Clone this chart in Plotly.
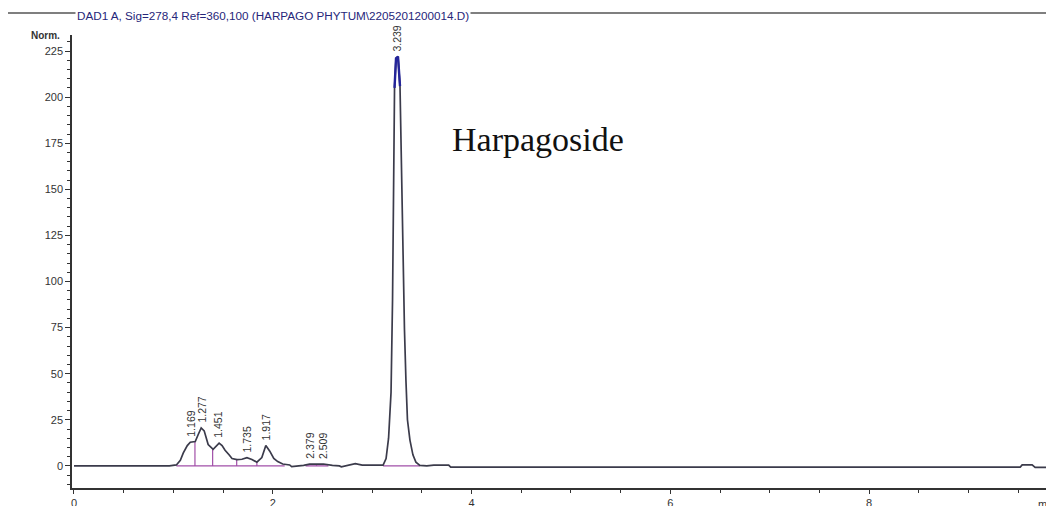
import numpy as np
import plotly.graph_objects as go

# Chromatogram trace (retention time in min, signal in Norm.)
time_min = [0.00, 0.96, 1.03, 1.07, 1.10, 1.14, 1.17, 1.22, 1.25, 1.28, 1.31, 1.35,
            1.40, 1.43, 1.46, 1.49, 1.52, 1.56, 1.59, 1.64, 1.69, 1.74, 1.79, 1.84,
            1.89, 1.93, 1.97, 2.01, 2.05, 2.10, 2.17, 2.19, 2.21, 2.25, 2.31, 2.37,
            2.44, 2.51, 2.60, 2.67, 2.69, 2.76, 2.83, 2.90, 3.00, 3.08, 3.11, 3.14,
            3.165, 3.19, 3.205, 3.215, 3.225, 3.24, 3.26, 3.28, 3.295, 3.31, 3.325,
            3.34, 3.355, 3.38, 3.41, 3.44, 3.48, 3.55, 3.62, 3.77, 3.79, 9.52, 9.54,
            9.64, 9.67, 9.90]
signal = [0.0, 0.0, 0.5, 3.0, 7.0, 11.0, 12.8, 13.2, 17.0, 20.6, 19.0, 11.6,
          9.0, 10.5, 12.3, 11.0, 8.5, 6.0, 4.0, 3.4, 3.6, 4.5, 3.5, 2.0,
          4.5, 11.0, 8.0, 4.0, 2.3, 1.0, 0.5, -0.4, -0.3, 0.3, 0.3, 0.9,
          0.8, 1.0, 0.3, 0.0, -0.5, 0.5, 1.2, 0.4, 0.2, 0.4, 0.4, 4.0,
          15.0, 40.0, 90.0, 160.0, 205.0, 221.0, 222.0, 206.0, 160.0, 113.0, 74.0,
          46.0, 25.0, 14.0, 6.0, 2.0, 0.3, 0.0, 0.4, 0.4, -0.7, -0.7, 0.5,
          0.5, -0.8, -0.8]

# Integrated peaks
peak_labels = ["1.169", "1.277", "1.451", "1.735", "1.917", "2.379", "2.509", "3.239"]
peak_times = [1.169, 1.285, 1.455, 1.740, 1.930, 2.380, 2.505, 3.250]
peak_heights = [13.2, 20.6, 12.3, 4.5, 11.0, 0.9, 1.0, 222.0]

# Valley drop lines and integration baselines
drop_times = [1.217, 1.395, 1.637, 1.840, 2.440]
baseline_starts = [1.03, 2.33, 3.11]
baseline_ends = [2.12, 2.56, 3.48]

# Apex highlight of the main peak
apex_start, apex_end = 3.222, 3.29

x_ticks = [0, 2, 4, 6, 8]
y_ticks = [0, 25, 50, 75, 100, 125, 150, 175, 200, 225]

font_family = "Liberation Sans, Arial, sans-serif"
line_col = "#3b3b4b"
purple = "#a14fa8"

fig = go.Figure()

# integration baselines
for s, e in zip(baseline_starts, baseline_ends):
    fig.add_trace(go.Scatter(x=[s, e], y=[0, 0], mode="lines",
                             line=dict(color=purple, width=1.3),
                             hoverinfo="skip", showlegend=False))
# drop lines
t_arr = np.array(time_min)
s_arr = np.array(signal)
for d in drop_times:
    h = float(np.interp(d, t_arr, s_arr))
    fig.add_trace(go.Scatter(x=[d, d], y=[0, h], mode="lines",
                             line=dict(color=purple, width=1.2),
                             hoverinfo="skip", showlegend=False))

fig.add_trace(go.Scatter(x=time_min, y=signal, mode="lines",
                         line=dict(color=line_col, width=1.7),
                         showlegend=False))

# blue apex segment
mask = (t_arr >= apex_start) & (t_arr <= apex_end)
fig.add_trace(go.Scatter(x=t_arr[mask], y=s_arr[mask], mode="lines",
                         line=dict(color="#24249a", width=2.4),
                         hoverinfo="skip", showlegend=False))

for lab, t, h in zip(peak_labels, peak_times, peak_heights):
    fig.add_annotation(x=t, y=h, text=lab, textangle=-90, showarrow=False,
                       xanchor="center", yanchor="bottom", yshift=3,
                       font=dict(family=font_family, size=10.5, color="#333333"))

fig.add_annotation(x=0.4745, y=0.815, xref="paper", yref="paper",
                   text="Harpagoside", showarrow=False,
                   font=dict(family="Liberation Serif, Times New Roman, serif",
                             size=34, color="#111111"))

fig.add_annotation(x=0.003, y=1.042, xref="paper", yref="paper",
                   xanchor="left", yanchor="middle",
                   text="DAD1 A, Sig=278,4 Ref=360,100 (HARPAGO PHYTUM\\2205201200014.D)",
                   showarrow=False, bgcolor="white",
                   font=dict(family=font_family, size=11.7, color="#26267a"))

fig.add_annotation(x=-0.01, y=1.0, xref="paper", yref="paper",
                   xanchor="right", yanchor="middle", text="<b>Norm.</b>",
                   showarrow=False,
                   font=dict(family=font_family, size=10, color="#333333"))

fig.add_annotation(x=0.982, y=-0.018, xref="paper", yref="paper",
                   xanchor="left", yanchor="top", text="min",
                   showarrow=False,
                   font=dict(family=font_family, size=11, color="#333333"))

# page frame
fig.add_shape(type="line", xref="paper", yref="paper",
              x0=-0.0662, x1=-0.0662, y0=-0.07, y1=1.0486,
              line=dict(color="#555555", width=1.5), layer="below")
fig.add_shape(type="line", xref="paper", yref="paper",
              x0=-0.0662, x1=1.01, y0=1.0486, y1=1.0486,
              line=dict(color="#555555", width=1.5), layer="below")

# the page body has an 8px margin, so margins are offset by 8px to keep the
# plot area where the reference has it
fig.update_layout(
    width=1054, height=506,
    margin=dict(l=64, r=8, t=27, b=26, autoexpand=False),
    paper_bgcolor="white", plot_bgcolor="white",
    font=dict(family=font_family, size=11, color="#333333"),
    xaxis=dict(range=[-0.02, 9.86], tickvals=x_ticks, ticks="outside",
               ticklen=4, tickcolor="#333333", showgrid=False, zeroline=False,
               showline=True, linecolor="#333333", linewidth=1.5,
               tickfont=dict(size=11), ticklabelstandoff=0, automargin=False,
               minor=dict(dtick=0.5, ticks="outside", ticklen=3,
                          tickcolor="#333333", showgrid=False)),
    yaxis=dict(range=[-12, 233.7], tickvals=y_ticks, ticks="outside",
               ticklen=5, tickcolor="#333333", showgrid=False, zeroline=False,
               showline=True, linecolor="#333333", linewidth=1.5,
               tickfont=dict(size=11), automargin=False,
               minor=dict(dtick=5, ticks="outside", ticklen=3,
                          tickcolor="#333333", showgrid=False)),
)

fig.write_html("out.html")
